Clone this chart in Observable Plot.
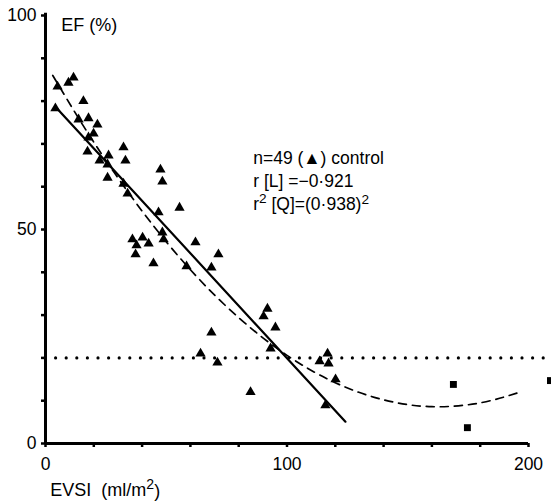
<!DOCTYPE html>
<html>
<head>
<meta charset="utf-8">
<script src="https://cdn.jsdelivr.net/npm/d3@7"></script>
<script src="https://cdn.jsdelivr.net/npm/@observablehq/plot@0.6"></script>
<style>
  html, body { margin: 0; padding: 0; background: #fff; }
</style>
</head>
<body>
<div id="chart"></div>
<script>
// Control group triangles: EVSI (ml/m²) vs EF (%)
const triX = [5.0, 9.5, 11.6, 4.1, 15.7, 13.7, 17.8, 21.5, 19.9, 17.8, 17.4, 26.1, 32.3, 22.4, 33.1, 25.7,
  47.6, 48.4, 25.7, 32.3, 34.0, 46.8, 55.5, 36.0, 40.2, 48.4, 48.9, 37.7, 42.7, 37.3, 44.7, 62.1,
  71.6, 58.4, 68.7, 91.9, 90.3, 95.2, 68.7, 93.2, 64.2, 71.2, 84.9, 116.8, 113.5, 117.2, 120.1, 115.9];
const triY = [83.4, 84.3, 85.5, 78.3, 80.0, 75.7, 76.0, 74.5, 72.4, 71.5, 68.2, 67.3, 69.2, 66.1, 66.1, 65.2,
  64.0, 61.2, 62.1, 60.7, 58.4, 54.0, 55.1, 47.7, 48.1, 49.3, 47.7, 46.3, 46.7, 44.2, 42.1, 47.0,
  44.2, 41.4, 41.1, 31.5, 29.7, 27.1, 25.9, 22.2, 21.0, 18.9, 12.0, 21.0, 19.2, 18.7, 15.0, 8.9];
// Square points
const sqX = [168.9, 174.7, 209.1];
const sqY = [13.8, 3.7, 14.7];
// Linear fit line (read endpoints)
const linX = [4.1, 124.2];
const linY = [78.7, 5.1];
// Quadratic fit (read points along the dashed curve)
const quadX = [3, 20, 40, 60, 80, 100, 120, 140, 160, 180, 197];
const quadY = [86.0, 70.4, 54.3, 40.6, 29.4, 20.6, 14.2, 10.2, 8.6, 9.5, 12.1];
// Threshold
const threshold = 20;
// Ticks
const xTicks = [0, 20, 40, 60, 80, 100, 120, 140, 160, 180, 200];
const xLabels = [0, 100, 200];
const yTicks = [0, 10, 20, 30, 40, 50, 60, 70, 80, 90, 100];
const yLabels = [0, 50, 100];
// Annotations
const statLines = ["n=49 (▲) control", "r [L] =−0·921", "r² [Q]=(0·938)²"];
const statY = [66.6, 61.2, 55.8];

const tri = triX.map((x, i) => ({x, y: triY[i]}));
const sq = sqX.map((x, i) => ({x, y: sqY[i]}));
const lin = linX.map((x, i) => ({x, y: linY[i]}));
const quad = quadX.map((x, i) => ({x, y: quadY[i]}));
const stats = statLines.map((t, i) => ({t, y: statY[i]}));

const chart = Plot.plot({
  width: 551,
  height: 502,
  marginLeft: 45,
  marginRight: 23,
  marginTop: 15,
  marginBottom: 59,
  x: {domain: [0, 200]},
  y: {domain: [0, 100]},
  style: {fontFamily: "Liberation Sans, Arial, sans-serif", fontSize: "16px", background: "#fff", color: "#000"},
  marks: [
    Plot.axisX({ticks: xTicks, tickSize: 4, tickPadding: 10, strokeWidth: 2.5,
      tickFormat: d => xLabels.includes(d) ? String(d) : "", fontSize: 17.5, label: null}),
    Plot.axisY({ticks: yTicks, tickSize: 4, tickPadding: 5, strokeWidth: 2.5,
      tickFormat: d => yLabels.includes(d) ? String(d) : "", fontSize: 17.5, label: null}),
    Plot.ruleY([threshold], {x1: 0, x2: 210, stroke: "#000", strokeWidth: 3.2,
      strokeDasharray: "0,10.6", strokeLinecap: "round"}),
    Plot.line(quad, {x: "x", y: "y", curve: "natural", stroke: "#000", strokeWidth: 1.7, strokeDasharray: "8,6"}),
    Plot.line(lin, {x: "x", y: "y", stroke: "#000", strokeWidth: 2.2}),
    Plot.dot(tri, {x: "x", y: "y", symbol: "triangle", r: 3.8, fill: "#000", stroke: null}),
    Plot.dot(sq, {x: "x", y: "y", symbol: "square", r: 3.9, fill: "#000", stroke: null}),
    Plot.ruleX([0], {y1: 0, y2: 100.5, stroke: "#000", strokeWidth: 3}),
    Plot.ruleY([0], {x1: 0, x2: 200, stroke: "#000", strokeWidth: 3}),
    Plot.text(stats, {x: 86, y: "y", text: "t", textAnchor: "start", fontSize: 17.5, fill: "#000"}),
    Plot.text(["EF (%)"], {x: 6.5, y: 97.7, textAnchor: "start", fontSize: 18, fill: "#000"}),
    Plot.text(["EVSI  (ml/m²)"], {x: 2, y: -11, textAnchor: "start", fontSize: 18, fill: "#000"})
  ]
});

// Render "²" as real superscript tspans
d3.select(chart).selectAll("text").each(function() {
  const el = this;
  if (el.children.length) return;
  const s = el.textContent;
  if (!s.includes("²")) return;
  el.textContent = "";
  const parts = s.split("²");
  parts.forEach((p, i) => {
    if (p) {
      const t = document.createElementNS("http://www.w3.org/2000/svg", "tspan");
      t.textContent = p;
      if (i > 0) t.setAttribute("dy", "0.4em");
      el.appendChild(t);
    }
    if (i < parts.length - 1) {
      const sup = document.createElementNS("http://www.w3.org/2000/svg", "tspan");
      sup.textContent = "2";
      sup.setAttribute("font-size", "0.78em");
      sup.setAttribute("dy", "-0.5em");
      el.appendChild(sup);
      if (i === parts.length - 2 && !parts[i + 1]) {
        // trailing superscript, nothing after
      }
    }
  });
});
document.getElementById("chart").appendChild(chart);
</script>
</body>
</html>
